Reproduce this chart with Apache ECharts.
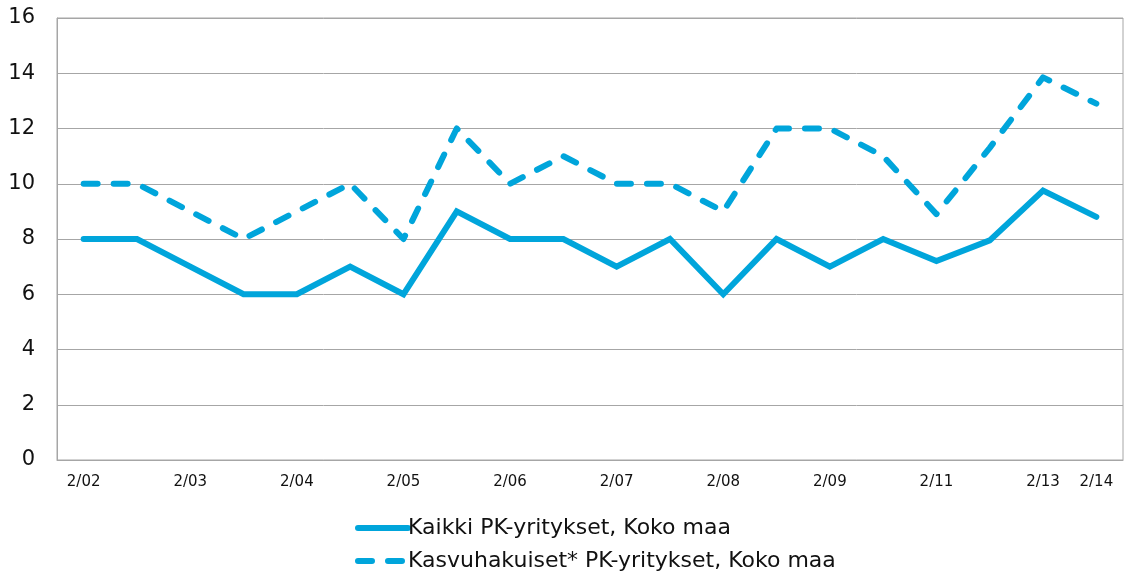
<!DOCTYPE html>
<html>
<head>
<meta charset="utf-8">
<script src="https://cdn.jsdelivr.net/npm/echarts@6/dist/echarts.min.js"></script>
<style>html,body{margin:0;padding:0;background:#fff}#c{width:1131px;height:577px}</style>
</head>
<body>
<div id="c"></div>
<script>
const categories = ['2/02','8/02','2/03','8/03','2/04','8/04','2/05','8/05','2/06','8/06','2/07','8/07','2/08','8/08','2/09','8/09','2/11','8/12','2/13','2/14'];
const kaikki = [8, 8, 7, 6, 6, 7, 6, 9, 8, 8, 7, 8, 6, 8, 7, 8, 7.2, 7.95, 9.75, 8.8];
const kasvuhakuiset = [10, 10, 9, 8, 9, 10, 8, 12, 10, 11, 10, 10, 9, 12, 12, 11, 8.9, 11.3, 13.85, 12.9];
const seriesNames = ['Kaikki PK-yritykset, Koko maa', 'Kasvuhakuiset* PK-yritykset, Koko maa'];

const color = '#00a5db';
const font = 'DejaVu Sans';
const chart = echarts.init(document.getElementById('c'), null, {renderer: 'canvas'});
chart.setOption({
  animation: false,
  backgroundColor: '#fff',
  textStyle: {fontFamily: font},
  grid: {left: 57, right: 8, top: 18, bottom: 117, show: true, borderColor: '#a6a6a6', borderWidth: 1},
  legend: {
    orient: 'vertical', left: 350, top: 512, itemWidth: 50, itemHeight: 14, itemGap: 11,
    itemStyle: {opacity: 0},
    lineStyle: {width: 6, cap: 'round'},
    textStyle: {fontSize: 22, color: '#111', fontFamily: font, padding: [0,0,0,-5]},
    data: seriesNames
  },
  xAxis: {
    type: 'category', data: categories, boundaryGap: true,
    axisTick: {show: false},
    axisLine: {lineStyle: {color: '#a6a6a6', width: 1}},
    axisLabel: {
      margin: 15, fontSize: 15, color: '#111', fontFamily: font,
      interval: function (i) { return i % 2 === 0 || i === categories.length - 1; }
    }
  },
  yAxis: {
    type: 'value', min: 0, max: 16, interval: 2,
    axisLine: {show: true, lineStyle: {color: '#a6a6a6', width: 1}},
    axisTick: {show: false},
    splitLine: {lineStyle: {color: '#a6a6a6', width: 1}},
    axisLabel: {margin: 22, fontSize: 21, color: '#111', fontFamily: font}
  },
  series: [
    {
      name: seriesNames[0], type: 'line', data: kaikki, showSymbol: false, symbol: 'none',
      itemStyle: {color: color},
      lineStyle: {color: color, width: 6, cap: 'round', join: 'miter'}
    },
    {
      name: seriesNames[1], type: 'line', data: kasvuhakuiset, showSymbol: false, symbol: 'none',
      itemStyle: {color: color},
      lineStyle: {color: color, width: 6, type: [14, 16], cap: 'round', join: 'round'}
    }
  ]
});
</script>
</body>
</html>
